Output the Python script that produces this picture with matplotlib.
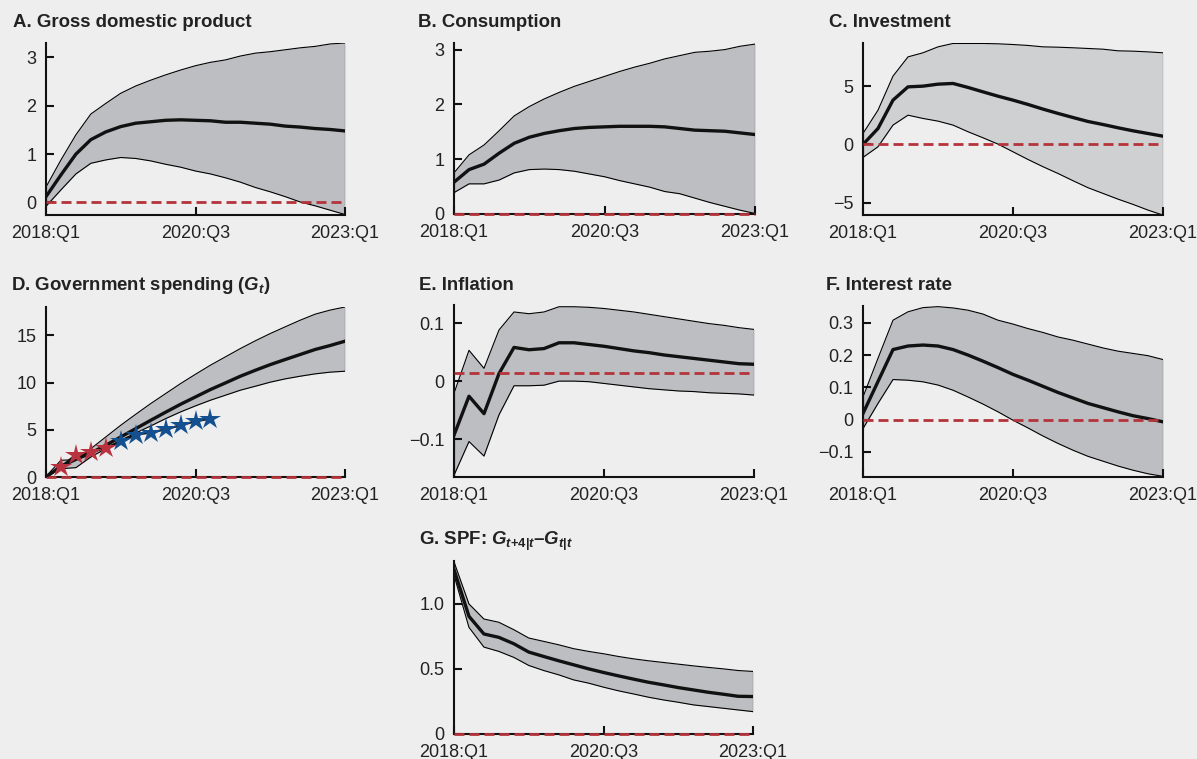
import matplotlib
matplotlib.use("Agg")
import matplotlib.pyplot as plt
import numpy as np

plt.rcParams['font.family'] = ['Liberation Sans', 'DejaVu Sans']
plt.rcParams['mathtext.fontset'] = 'custom'
plt.rcParams['mathtext.it'] = 'Liberation Sans:italic:bold'
plt.rcParams['mathtext.rm'] = 'Liberation Sans:bold'
plt.rcParams['mathtext.bf'] = 'Liberation Sans:bold'

quarters = list(range(21))
xtick_pos = [0, 10, 20]
xtick_labels = ["2018:Q1", "2020:Q3", "2023:Q1"]

# Panel A: GDP
gdp_med = [0.12, 0.57, 1.0, 1.3, 1.46, 1.57, 1.64, 1.67, 1.70, 1.71, 1.70, 1.69, 1.66, 1.66, 1.64, 1.62, 1.58, 1.56, 1.53, 1.51, 1.48]
gdp_hi = [0.32, 0.88, 1.4, 1.83, 2.05, 2.26, 2.41, 2.53, 2.64, 2.74, 2.83, 2.9, 2.95, 3.03, 3.09, 3.12, 3.16, 3.2, 3.23, 3.28, 3.30]
gdp_lo = [-0.08, 0.26, 0.59, 0.81, 0.88, 0.93, 0.91, 0.86, 0.79, 0.73, 0.65, 0.59, 0.51, 0.42, 0.31, 0.22, 0.12, 0.01, -0.07, -0.16, -0.25]

# Panel B: Consumption
cons_med = [0.58, 0.81, 0.91, 1.11, 1.29, 1.40, 1.47, 1.52, 1.56, 1.58, 1.59, 1.60, 1.60, 1.60, 1.59, 1.56, 1.53, 1.52, 1.51, 1.48, 1.45]
cons_hi = [0.75, 1.08, 1.26, 1.52, 1.79, 1.96, 2.10, 2.22, 2.33, 2.42, 2.51, 2.60, 2.68, 2.75, 2.83, 2.89, 2.95, 2.97, 3.00, 3.06, 3.10]
cons_lo = [0.39, 0.55, 0.55, 0.62, 0.75, 0.81, 0.82, 0.81, 0.78, 0.73, 0.68, 0.61, 0.55, 0.49, 0.41, 0.37, 0.29, 0.21, 0.14, 0.07, 0.01]

# Panel C: Investment
inv_med = [0.0, 1.37, 3.8, 4.94, 5.0, 5.17, 5.23, 4.89, 4.51, 4.14, 3.8, 3.43, 3.03, 2.66, 2.31, 1.97, 1.71, 1.43, 1.17, 0.94, 0.71]
inv_hi = [0.94, 2.94, 5.86, 7.51, 7.86, 8.37, 8.66, 8.66, 8.66, 8.63, 8.57, 8.49, 8.37, 8.34, 8.29, 8.23, 8.17, 8.03, 8.0, 7.94, 7.86]
inv_lo = [-1.11, -0.2, 1.66, 2.51, 2.23, 2.0, 1.66, 1.09, 0.57, 0.03, -0.63, -1.29, -1.91, -2.49, -3.11, -3.71, -4.2, -4.69, -5.14, -5.63, -6.06]

# Panel D: Government spending
gov_med = [0.0, 1.13, 1.87, 2.54, 3.36, 4.24, 5.12, 6.0, 6.86, 7.7, 8.48, 9.26, 9.96, 10.67, 11.3, 11.9, 12.44, 12.97, 13.5, 13.92, 14.38]
gov_hi = [0.07, 1.77, 1.84, 3.0, 4.24, 5.48, 6.64, 7.77, 8.83, 9.89, 10.88, 11.84, 12.72, 13.6, 14.42, 15.19, 15.9, 16.6, 17.24, 17.67, 18.0]
gov_lo = [0.0, 0.88, 0.99, 2.12, 3.0, 3.89, 4.66, 5.4, 6.18, 6.89, 7.53, 8.13, 8.66, 9.19, 9.61, 10.04, 10.39, 10.67, 10.92, 11.1, 11.2]
spf_red_q = [1, 2, 3, 4]
spf_red_val = [1.06, 2.37, 2.65, 3.07]
spf_blue_q = [5, 6, 7, 8, 9, 10, 11]
spf_blue_val = [3.78, 4.49, 4.7, 5.05, 5.48, 5.9, 6.18]

# Panel E: Inflation
inf_med = [-0.093, -0.026, -0.056, 0.013, 0.058, 0.054, 0.056, 0.066, 0.066, 0.063, 0.060, 0.056, 0.052, 0.049, 0.045, 0.042, 0.039, 0.036, 0.033, 0.030, 0.029]
inf_hi = [-0.021, 0.053, 0.022, 0.088, 0.119, 0.116, 0.119, 0.128, 0.128, 0.127, 0.125, 0.122, 0.119, 0.115, 0.111, 0.107, 0.103, 0.099, 0.096, 0.092, 0.089]
inf_lo = [-0.162, -0.104, -0.129, -0.058, -0.008, -0.008, -0.007, 0.0, 0.0, -0.001, -0.004, -0.007, -0.010, -0.013, -0.015, -0.017, -0.018, -0.020, -0.021, -0.022, -0.024]
inf_ref = 0.0143

# Panel F: Interest rate
rate_med = [0.019, 0.118, 0.217, 0.228, 0.231, 0.228, 0.217, 0.2, 0.181, 0.161, 0.140, 0.122, 0.103, 0.084, 0.067, 0.050, 0.037, 0.024, 0.012, 0.003, -0.007]
rate_hi = [0.07, 0.19, 0.308, 0.334, 0.347, 0.35, 0.346, 0.339, 0.327, 0.308, 0.296, 0.282, 0.27, 0.256, 0.246, 0.234, 0.222, 0.212, 0.205, 0.198, 0.186]
rate_lo = [-0.028, 0.05, 0.124, 0.122, 0.117, 0.107, 0.091, 0.07, 0.048, 0.024, -0.002, -0.026, -0.051, -0.074, -0.095, -0.114, -0.129, -0.144, -0.157, -0.168, -0.176]

# Panel G: SPF forecast revision
spf_med = [1.265, 0.905, 0.769, 0.743, 0.694, 0.63, 0.596, 0.563, 0.532, 0.501, 0.473, 0.447, 0.422, 0.398, 0.378, 0.357, 0.339, 0.321, 0.306, 0.29, 0.288]
spf_hi = [1.324, 1.0, 0.884, 0.859, 0.802, 0.738, 0.712, 0.686, 0.656, 0.635, 0.617, 0.596, 0.578, 0.563, 0.55, 0.537, 0.524, 0.512, 0.501, 0.488, 0.481]
spf_lo = [1.221, 0.82, 0.668, 0.635, 0.589, 0.527, 0.488, 0.455, 0.416, 0.391, 0.36, 0.332, 0.308, 0.283, 0.262, 0.244, 0.224, 0.211, 0.198, 0.185, 0.172]

BG = '#eeeeee'
BAND = '#bdbec2'
BAND_C = '#cfd0d2'
RED = '#b5333b'
BLUE = '#14508f'
RED_STAR = '#b8323f'

W, H = 1197, 759
fig = plt.figure(figsize=(W / 100, H / 100), dpi=100, facecolor=BG)

def px_axes(l, r, t, b):
    return fig.add_axes([l / W, 1 - b / H, (r - l) / W, (b - t) / H])

FS = 13
TFS = 13.4

def setup(ax, ylim, yticks, yticklabels, title, title_x, title_y, med, hi, lo,
          band_color=BAND, ref=0.0):
    ax.set_facecolor(BG)
    ax.fill_between(quarters, lo, hi, color=band_color, zorder=1, linewidth=0)
    ax.plot(quarters, hi, color='black', lw=0.8, zorder=2)
    ax.plot(quarters, lo, color='black', lw=0.8, zorder=2)
    ax.plot([0, 0], [lo[0], hi[0]], color='black', lw=0.8, zorder=2)
    ax.plot([20, 20], [lo[-1], hi[-1]], color='black', lw=0.8, zorder=2)
    ax.plot(quarters, med, color='#111111', lw=2.4, zorder=3)
    ax.axhline(ref, color=RED, lw=2.0, dashes=(3.6, 1.8), zorder=5, clip_on=False)
    ax.set_xlim(0, 20)
    ax.set_ylim(*ylim)
    ax.set_xticks(xtick_pos)
    ax.set_xticklabels(xtick_labels)
    ax.set_yticks(yticks)
    ax.set_yticklabels(yticklabels)
    for s in ['top', 'right']:
        ax.spines[s].set_visible(False)
    for s in ['left', 'bottom']:
        ax.spines[s].set_linewidth(1.5)
        ax.spines[s].set_color('#111111')
    ax.tick_params(axis='both', direction='in', length=6, width=1.5, color='#111111',
                   labelsize=FS, labelcolor='#222222')
    ax.tick_params(axis='x', pad=7)
    ax.tick_params(axis='y', pad=7)
    fig.text(title_x / W, 1 - title_y / H, title, fontsize=TFS, fontweight='bold',
             color='#222222', ha='left', va='baseline')

axA = px_axes(46, 345, 43, 215)
setup(axA, (-0.26, 3.3), [0, 1, 2, 3], ['0', '1', '2', '3'],
      'A. Gross domestic product', 13, 27, gdp_med, gdp_hi, gdp_lo)

axB = px_axes(454, 755, 43, 214)
setup(axB, (0, 3.12), [0, 1, 2, 3], ['0', '1', '2', '3'],
      'B. Consumption', 418, 27, cons_med, cons_hi, cons_lo)

axC = px_axes(863, 1163, 43, 215)
setup(axC, (-6.05, 8.7), [-5, 0, 5], ['\u22125', '0', '5'],
      'C. Investment', 829, 27, inv_med, inv_hi, inv_lo, band_color=BAND_C)

axD = px_axes(46, 345, 307, 477)
setup(axD, (0, 18), [0, 5, 10, 15], ['0', '5', '10', '15'],
      r'D. Government spending ($G_t$)', 11, 290, gov_med, gov_hi, gov_lo)
axD.plot([0] + spf_red_q + spf_blue_q, [0] + spf_red_val + spf_blue_val,
         color='#111111', lw=1.6, zorder=5)
axD.plot(spf_red_q, spf_red_val, ls='none', marker='*', ms=16, color=RED_STAR,
         markeredgewidth=0, zorder=6, clip_on=False)
axD.plot(spf_blue_q, spf_blue_val, ls='none', marker='*', ms=16, color=BLUE,
         markeredgewidth=0, zorder=6, clip_on=False)

axE = px_axes(454, 754, 305, 477)
setup(axE, (-0.165, 0.131), [-0.1, 0, 0.1], ['\u22120.1', '0', '0.1'],
      'E. Inflation', 419, 290, inf_med, inf_hi, inf_lo, ref=inf_ref)

axF = px_axes(863, 1163, 306, 477)
setup(axF, (-0.178, 0.352), [-0.1, 0, 0.1, 0.2, 0.3], ['\u22120.1', '0', '0.1', '0.2', '0.3'],
      'F. Interest rate', 826, 290, rate_med, rate_hi, rate_lo)

axG = px_axes(454, 753, 561, 734)
setup(axG, (0, 1.33), [0, 0.5, 1.0], ['0', '0.5', '1.0'],
      r'G. SPF: $G_{t\mathregular{+4}|t}$' + '\u2013' + r'$G_{t|t}$', 419, 545,
      spf_med, spf_hi, spf_lo)

fig.savefig('out.png', dpi=100, facecolor=BG)
